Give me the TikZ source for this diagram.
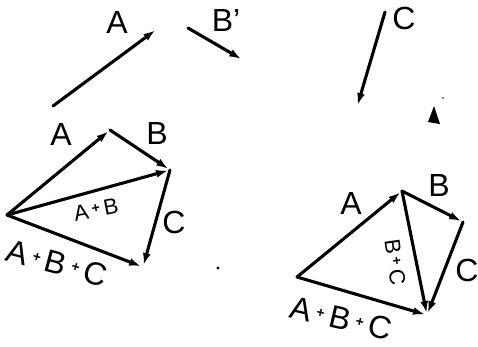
\documentclass[tikz,border=0pt]{standalone}
\usepackage{fontspec}
\setmainfont{Liberation Sans}
\usetikzlibrary{arrows.meta}

\newcommand{\pl}{\,\raisebox{0.22em}{\fontsize{14}{14}\selectfont\bfseries+}\,}
\tikzset{
  vec/.style={line width=3.1pt, line cap=round, -{Latex[length=12pt,width=8pt]}, shorten >=2pt},
  lbl/.style={font=\fontsize{32}{33}\selectfont, inner sep=0pt},
  sml/.style={font=\fontsize{22}{23}\selectfont, inner sep=0pt}
}

\begin{document}
\begin{tikzpicture}[x=1pt,y=-1pt]
            \useasboundingbox (0,0) rectangle (478,346);
            % separate vectors
            \coordinate (a0) at (53,106);  \coordinate (a1) at (157,29);
            \coordinate (b0) at (188,28);  \coordinate (b1) at (243,60);
            \coordinate (c0) at (385,12);  \coordinate (c1) at (357,107);
            \draw[vec] (a0) -- (a1);
            \draw[vec] (b0) -- (b1);
            \draw[vec] (c0) -- (c1);
            \node[lbl] (la) at (117,22) {A};
            \node[lbl] (lb) at (226,20) {B'};
            \node[lbl] (lc) at (404,18) {C};
            % specks
            \fill (434,106) -- (440,124) -- (428,122) -- cycle;
            \fill (443,98) circle (0.8);
            \fill (218,268) circle (1.6);
            % left: (A+B)+C
            \coordinate (o) at (7,215);
            \coordinate (p1) at (110,130);
            \coordinate (p2) at (170,170);
            \coordinate (p3) at (143,267);
            \draw[vec] (o) -- (p1);
            \draw[vec] (p1) -- (p2);
            \draw[vec] (p2) -- (p3);
            \draw[vec] (o) -- (p2);
            \draw[vec] (o) -- (p3);
            \node[lbl] (l1) at (61,134) {A};
            \node[lbl] (l2) at (157,133) {B};
            \node[lbl] (l3) at (174,222) {C};
            \node[sml,rotate=11] (l4) at (96,210) {A\pl B};
            \node[lbl,rotate=-15] (l5) at (57,263) {A\pl B\pl C};
            % right: A+(B+C)
            \coordinate (q0) at (297,277);
            \coordinate (q1) at (402,191);
            \coordinate (q2) at (463,222);
            \coordinate (q3) at (427,315);
            \draw[vec] (q0) -- (q1);
            \draw[vec] (q1) -- (q2);
            \draw[vec] (q2) -- (q3);
            \draw[vec] (q1) -- (q3);
            \draw[vec] (q0) -- (q3);
            \node[lbl] (r1) at (351,203) {A};
            \node[lbl] (r2) at (439,185) {B};
            \node[lbl] (r3) at (467,270) {C};
            \node[sml,rotate=-82] (r4) at (395,262) {B\pl C};
            \node[lbl,rotate=-13] (r5) at (341,318) {A\pl B\pl C};
        \end{tikzpicture}
\end{document}
